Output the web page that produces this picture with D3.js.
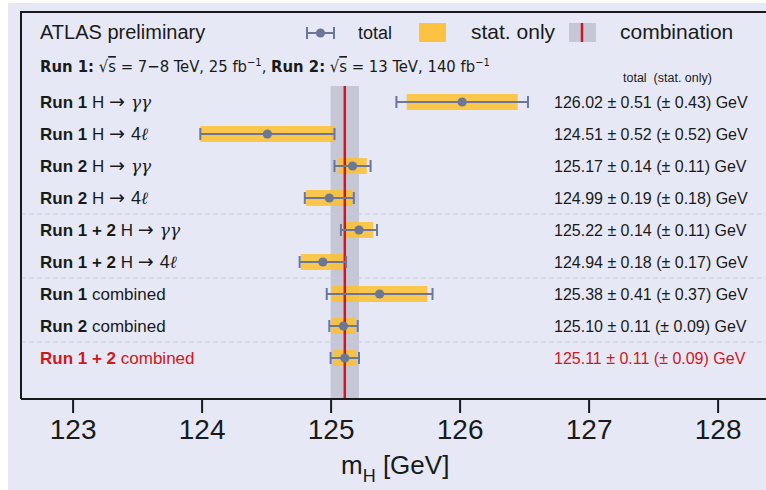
<!DOCTYPE html>
<html>
<head>
<meta charset="utf-8">
<script src="https://cdn.jsdelivr.net/npm/d3@7"></script>
<style>
  body { margin: 0; background: #fff; }
  svg { display: block; }
  text { font-family: "Liberation Sans", Arial, sans-serif; fill: #1a1a1a; }
  .narrow { font-family: "Liberation Sans Narrow", "DejaVu Sans Condensed", "Liberation Sans", sans-serif; }
  .x-axis text { font-size: 28px; fill: #1a1a1a; }
  .x-axis line, .x-axis path { stroke: #1a1a1a; stroke-width: 2; }
</style>
</head>
<body>
<div id="chart"></div>
<script>
// ---------------- data ----------------
const runs = ["Run 1", "Run 1", "Run 2", "Run 2", "Run 1 + 2", "Run 1 + 2", "Run 1", "Run 2", "Run 1 + 2"];
const channels = ["γγ", "4ℓ", "γγ", "4ℓ", "γγ", "4ℓ", "combined", "combined", "combined"];
const masses = [126.02, 124.51, 125.17, 124.99, 125.22, 124.94, 125.38, 125.10, 125.11];
const totalErr = [0.51, 0.52, 0.14, 0.19, 0.14, 0.18, 0.41, 0.11, 0.11];
const statErr = [0.43, 0.52, 0.11, 0.18, 0.11, 0.17, 0.37, 0.09, 0.09];
const separators = [3, 5, 7]; // dashed line after these rows
const xTicks = [123, 124, 125, 126, 127, 128];
const combination = { mass: 125.11, err: 0.11 };

const rows = masses.map((m, i) => ({
  id: i, run: runs[i], channel: channels[i], mass: m,
  tot: totalErr[i], stat: statErr[i], last: i === masses.length - 1
}));

// ---------------- init ----------------
const width = 766, height = 490;
const frame = { left: 21, top: 12, bottom: 399 };

const svg = d3.select("#chart").append("svg")
  .attr("width", width).attr("height", height);

svg.append("rect").attr("x", 8).attr("y", 3)
  .attr("width", width - 8).attr("height", height - 3).attr("fill", "#e6e9f5");

const xScale = d3.scaleLinear().domain([122.6, 128.4]).range([frame.left, frame.left + 5.8 * 129]);
const yScale = d3.scalePoint().domain(rows.map(d => d.id)).range([102, 358]);

const colYellow = "#fdbf2d", colBar = "#6a7797", colRed = "#d0161e", colBand = "#c6c7d6";

// combination band
svg.append("rect")
  .attr("x", xScale(combination.mass - combination.err))
  .attr("y", 86)
  .attr("width", xScale(combination.mass + combination.err) - xScale(combination.mass - combination.err))
  .attr("height", frame.bottom - 86)
  .attr("fill", colBand);

// separators
svg.selectAll(".sep").data(separators).enter().append("line")
  .attr("x1", frame.left).attr("x2", width)
  .attr("y1", d => (yScale(d) + yScale(d + 1)) / 2)
  .attr("y2", d => (yScale(d) + yScale(d + 1)) / 2)
  .attr("stroke", "#c9cbd8").attr("stroke-width", 1).attr("stroke-dasharray", "5,3");

// stat bars
svg.selectAll(".stat").data(rows).enter().append("rect")
  .attr("x", d => xScale(d.mass - d.stat))
  .attr("y", d => yScale(d.id) - 8)
  .attr("width", d => xScale(d.mass + d.stat) - xScale(d.mass - d.stat))
  .attr("height", 16)
  .attr("fill", colYellow).attr("opacity", 0.85);

svg.append("line")
  .attr("x1", xScale(combination.mass)).attr("x2", xScale(combination.mass))
  .attr("y1", 86).attr("y2", frame.bottom)
  .attr("stroke", colRed).attr("stroke-width", 2.5);

// total error bars
const eb = svg.selectAll(".eb").data(rows).enter().append("g")
  .attr("transform", d => `translate(0,${yScale(d.id)})`);
eb.append("line")
  .attr("x1", d => xScale(d.mass - d.tot)).attr("x2", d => xScale(d.mass + d.tot))
  .attr("stroke", colBar).attr("stroke-width", 2);
eb.append("line")
  .attr("x1", d => xScale(d.mass - d.tot)).attr("x2", d => xScale(d.mass - d.tot))
  .attr("y1", -6).attr("y2", 6).attr("stroke", colBar).attr("stroke-width", 2);
eb.append("line")
  .attr("x1", d => xScale(d.mass + d.tot)).attr("x2", d => xScale(d.mass + d.tot))
  .attr("y1", -6).attr("y2", 6).attr("stroke", colBar).attr("stroke-width", 2);
eb.append("circle")
  .attr("cx", d => xScale(d.mass)).attr("r", 4.6).attr("fill", colBar);

// row labels
const lab = svg.selectAll(".lab").data(rows).enter().append("text")
  .attr("x", 40).attr("y", d => yScale(d.id) + 6)
  .style("font-size", "17px")
  .style("fill", d => d.last ? colRed : "#1a1a1a");
lab.append("tspan").style("font-weight", "bold").text(d => d.run);
lab.filter(d => d.channel === "combined").append("tspan").text(d => " " + d.channel);
const decay = lab.filter(d => d.channel !== "combined");
decay.append("tspan").text(" H ");
decay.append("tspan").style("font-family", "DejaVu Sans").style("font-size", "19px").text("→ ");
decay.filter(d => d.channel.startsWith("4")).append("tspan").style("font-size", "18px").text("4");
decay.append("tspan").style("font-family", "DejaVu Serif").style("font-style", "italic").style("font-size", "17px")
  .text(d => d.channel.replace("4", ""));

// values
svg.selectAll(".val").data(rows).enter().append("text")
  .attr("x", 554).attr("y", d => yScale(d.id) + 5.5)
  .style("font-size", "16px")
  .style("fill", d => d.last ? colRed : "#1a1a1a")
  .text(d => `${d.mass.toFixed(2)} ± ${d.tot.toFixed(2)} (± ${d.stat.toFixed(2)}) GeV`);

svg.append("text").attr("x", 623).attr("y", 82)
  .style("font-size", "12.5px").attr("xml:space", "preserve").text("total  (stat. only)");

// frame
svg.append("path")
  .attr("d", `M${width},${frame.top}H${frame.left}V${frame.bottom}`)
  .attr("fill", "none").attr("stroke", "#1a1a1a").attr("stroke-width", 2);

// axis
svg.append("g").attr("class", "x-axis")
  .attr("transform", `translate(0,${frame.bottom})`)
  .call(d3.axisBottom(xScale).tickValues(xTicks).tickSize(14).tickPadding(6).tickFormat(d3.format("d")))
  .call(g => g.select(".domain").attr("d", `M${frame.left},0H${width}`))
  .selectAll("text").attr("font-family", null).attr("font-size", null);

const xt = svg.append("text").attr("x", 341).attr("y", 474).style("font-size", "26px");
xt.append("tspan").text("m");
xt.append("tspan").attr("dy", 8).style("font-size", "18px").text("H");
xt.append("tspan").attr("dy", -8).text(" [GeV]");

// header
svg.append("text").attr("x", 40).attr("y", 39).style("font-size", "20px").text("ATLAS preliminary");

const hdr = svg.append("text").attr("class", "narrow").attr("x", 40).attr("y", 72).style("font-size", "16.5px");
hdr.append("tspan").style("font-weight", "bold").text("Run 1:");
hdr.append("tspan").text(" √");
hdr.append("tspan").style("text-decoration", "overline").text("s");
hdr.append("tspan").text(" = 7−8 TeV, 25 fb");
hdr.append("tspan").attr("dy", -6).style("font-size", "11px").text("−1");
hdr.append("tspan").attr("dy", 6).text(", ");
hdr.append("tspan").style("font-weight", "bold").text("Run 2:");
hdr.append("tspan").text(" √");
hdr.append("tspan").style("text-decoration", "overline").text("s");
hdr.append("tspan").text(" = 13 TeV, 140 fb");
hdr.append("tspan").attr("dy", -6).style("font-size", "11px").text("−1");

// legend
const lg = svg.append("g");
lg.append("line").attr("x1", 307).attr("x2", 334).attr("y1", 33).attr("y2", 33).attr("stroke", colBar).attr("stroke-width", 2);
lg.append("line").attr("x1", 307).attr("x2", 307).attr("y1", 27).attr("y2", 39).attr("stroke", colBar).attr("stroke-width", 2);
lg.append("line").attr("x1", 334).attr("x2", 334).attr("y1", 27).attr("y2", 39).attr("stroke", colBar).attr("stroke-width", 2);
lg.append("circle").attr("cx", 320.5).attr("cy", 33).attr("r", 4.6).attr("fill", colBar);
lg.append("text").attr("x", 358).attr("y", 39).style("font-size", "18px").text("total");
lg.append("rect").attr("x", 419).attr("y", 23).attr("width", 27).attr("height", 19).attr("fill", colYellow).attr("opacity", 0.9);
lg.append("text").attr("x", 471).attr("y", 39).style("font-size", "21px").text("stat. only");
lg.append("rect").attr("x", 569).attr("y", 23).attr("width", 27).attr("height", 19).attr("fill", colBand);
lg.append("line").attr("x1", 582).attr("x2", 582).attr("y1", 23).attr("y2", 42).attr("stroke", colRed).attr("stroke-width", 2.5);
lg.append("text").attr("x", 620).attr("y", 39).style("font-size", "21px").text("combination");
</script>
</body>
</html>
